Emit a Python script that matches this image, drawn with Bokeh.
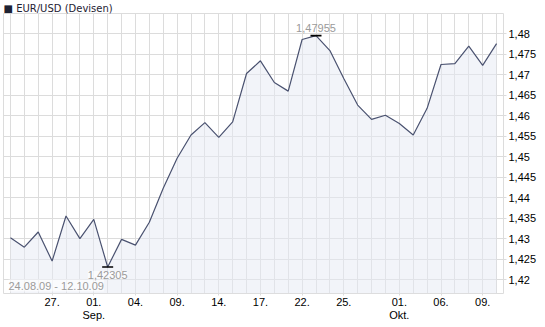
from bokeh.plotting import figure
from bokeh.models import FixedTicker, Label, CustomJSTickFormatter
from bokeh.embed import file_html
from bokeh.resources import INLINE

# ---- data ----
dates = ["24.08.09", "25.08.09", "26.08.09", "27.08.09", "28.08.09", "31.08.09",
         "01.09.09", "02.09.09", "03.09.09", "04.09.09", "07.09.09", "08.09.09",
         "09.09.09", "10.09.09", "11.09.09", "14.09.09", "15.09.09", "16.09.09",
         "17.09.09", "18.09.09", "21.09.09", "22.09.09", "23.09.09", "24.09.09",
         "25.09.09", "28.09.09", "29.09.09", "30.09.09", "01.10.09", "02.10.09",
         "05.10.09", "06.10.09", "07.10.09", "08.10.09", "09.10.09", "12.10.09"]
eurusd = [1.4302, 1.4279, 1.4316, 1.4245, 1.4355, 1.4300, 1.4347, 1.42305,
          1.4298, 1.4284, 1.4340, 1.4423, 1.4496, 1.4553, 1.4583, 1.4547,
          1.4585, 1.4703, 1.4734, 1.4681, 1.4660, 1.4786, 1.47955, 1.4759,
          1.4691, 1.4626, 1.4591, 1.4601, 1.4581, 1.4553, 1.4618, 1.4725,
          1.4727, 1.4770, 1.4723, 1.4776]
x_tick_idx = [3, 6, 9, 12, 15, 18, 21, 24, 28, 31, 34]
x_tick_labels = ["27.", "01.\nSep.", "04.", "09.", "14.", "17.", "22.", "25.",
                 "01.\nOkt.", "06.", "09."]
y_ticks = [1.42, 1.425, 1.43, 1.435, 1.44, 1.445, 1.45, 1.455, 1.46, 1.465,
           1.47, 1.475, 1.48]
y_min, y_max = 1.41659, 1.48495
hi_label, lo_label = "1,47955", "1,42305"
title_text = "\u25a0 EUR/USD (Devisen)"
range_text = dates[0] + " - " + dates[-1]

idx = list(range(len(eurusd)))
FONT = "Liberation Sans"
GRID = "#dcdcdc"

p = figure(width=545, height=327, output_backend="svg", toolbar_location=None,
           x_range=(-0.5, len(eurusd) - 0.5), y_range=(y_min, y_max),
           y_axis_location="right", min_border_left=3, min_border_right=42,
           min_border_top=0, min_border_bottom=34)
p.outline_line_color = GRID
p.background_fill_color = "white"
p.border_fill_color = "white"

# title
p.title.text = title_text
p.title.align = "left"
p.title.standoff = 0
p.title.offset = 0
p.title.text_font = "DejaVu Sans"
p.title.text_font_size = "10px"
p.title.text_font_style = "normal"
p.title.text_line_height = 1.0
p.title.text_color = "#1e2233"

# grids
p.xgrid.ticker = FixedTicker(ticks=idx)
p.ygrid.ticker = FixedTicker(ticks=y_ticks)
p.xgrid.grid_line_color = GRID
p.ygrid.grid_line_color = GRID

# x axis
xa = p.xaxis[0]
xa.ticker = FixedTicker(ticks=x_tick_idx)
xa.major_label_overrides = {i: l for i, l in zip(x_tick_idx, x_tick_labels)}
xa.axis_line_color = None
xa.major_tick_line_color = GRID
xa.major_tick_out = 2
xa.major_tick_in = 0
xa.minor_tick_line_color = None
xa.major_label_standoff = 0
xa.major_label_text_font = FONT
xa.major_label_text_font_size = "11px"
xa.major_label_text_line_height = 1.1
xa.major_label_text_color = "black"

# y axis (right)
ya = p.yaxis[0]
ya.ticker = FixedTicker(ticks=y_ticks)
ya.formatter = CustomJSTickFormatter(
    code="return tick.toFixed(3).replace(/0$/, '').replace('.', ',');")
ya.axis_line_color = None
ya.major_tick_line_color = GRID
ya.major_tick_out = 3
ya.major_tick_in = 0
ya.minor_tick_line_color = None
ya.major_label_standoff = 2
ya.major_label_text_font = FONT
ya.major_label_text_font_size = "11px"
ya.major_label_text_color = "black"

# area + line
p.varea(x=idx, y1=[y_min] * len(idx), y2=eurusd, fill_color="#e6e9f4", fill_alpha=0.5)
p.line(idx, eurusd, line_color="#4a5270", line_width=1.2)

# high / low markers
i_hi = eurusd.index(max(eurusd))
i_lo = eurusd.index(min(eurusd))
p.scatter([i_hi, i_lo], [eurusd[i_hi], eurusd[i_lo]], marker="dash", size=11,
          line_color="black", line_width=1.6)

p.add_layout(Label(x=i_hi, y=eurusd[i_hi], text=hi_label, text_align="center",
                   text_baseline="bottom", y_offset=4, text_font=FONT,
                   text_font_size="11px", text_color="#9a9a9a"))
p.add_layout(Label(x=5, y=8, x_units="screen", y_units="screen", text=range_text,
                   text_align="left", text_baseline="middle", text_font=FONT,
                   text_font_size="11px", text_color="#9a9a9a",
                   background_fill_color="white", background_fill_alpha=0.6))
p.add_layout(Label(x=i_lo, y=eurusd[i_lo], text=lo_label, text_align="center",
                   text_baseline="top", y_offset=-4, text_font=FONT,
                   text_font_size="11px", text_color="#9a9a9a",
                   background_fill_color="white", background_fill_alpha=0.6))

open("out.html", "w").write(file_html(p, INLINE))
